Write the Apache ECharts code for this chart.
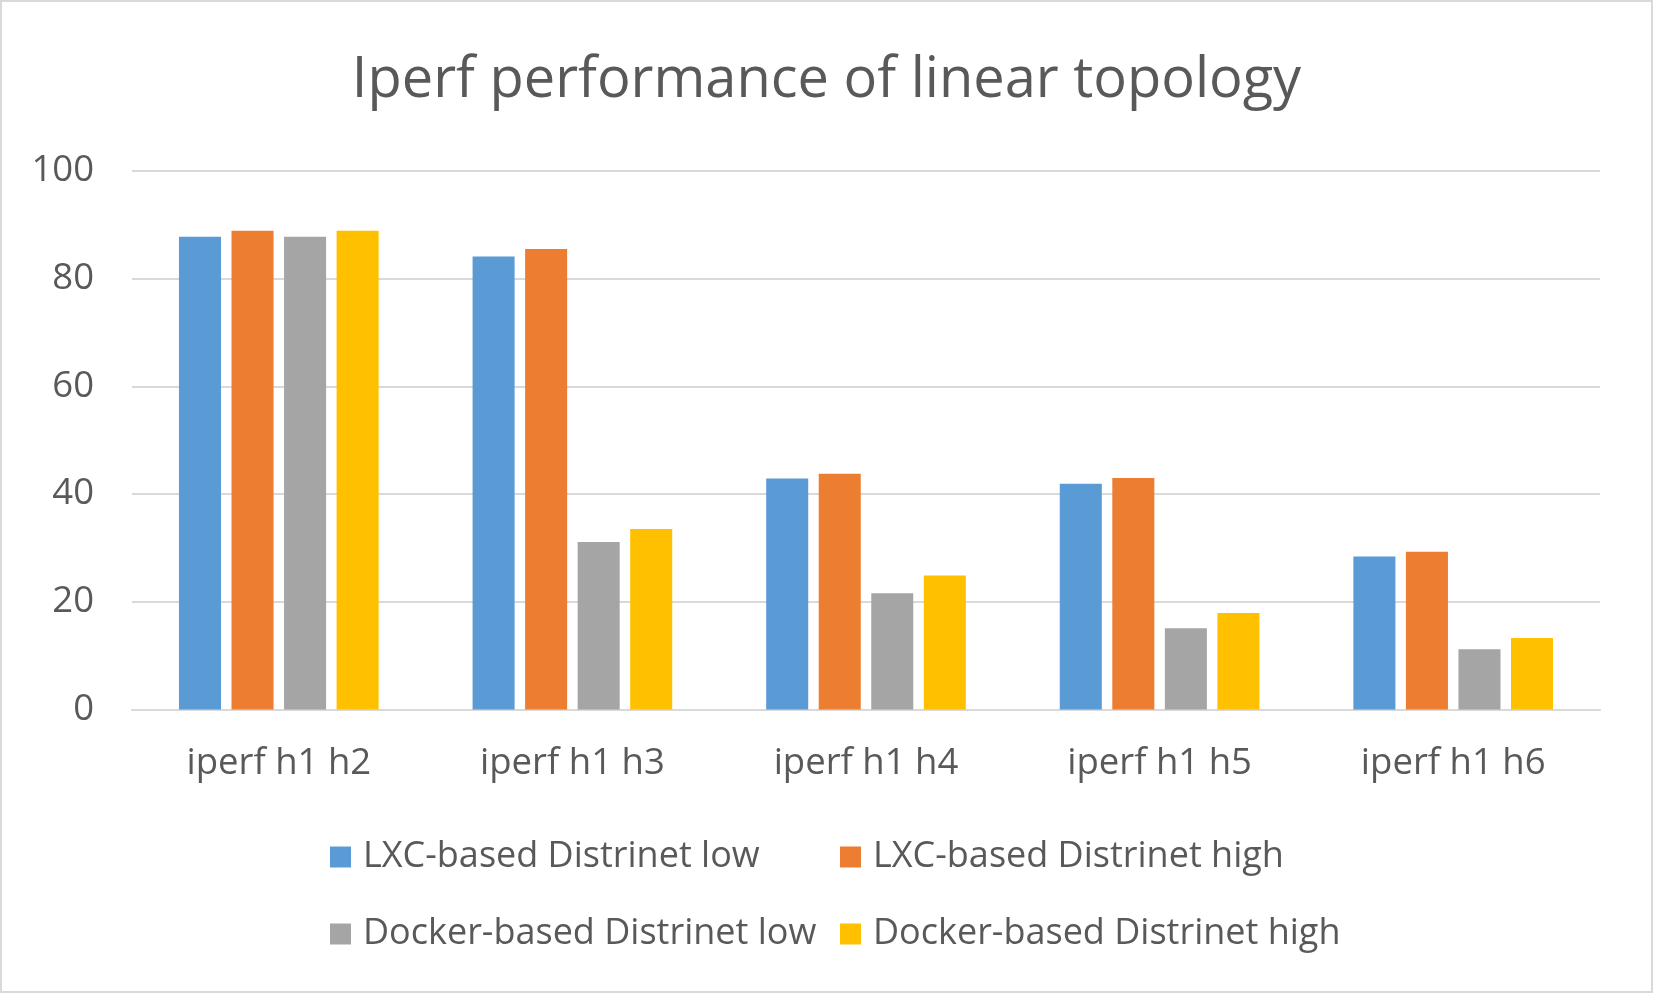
<!DOCTYPE html>
<html>
<head>
<meta charset="utf-8">
<script src="https://cdn.jsdelivr.net/npm/echarts@6/dist/echarts.min.js"></script>
<style>
html,body{margin:0;padding:0;background:#fff;}
#chart{width:1653px;height:993px;}
</style>
</head>
<body>
<div id="chart"></div>
<script>
const categories = ['iperf h1 h2', 'iperf h1 h3', 'iperf h1 h4', 'iperf h1 h5', 'iperf h1 h6'];
const seriesNames = ['LXC-based Distrinet low', 'LXC-based Distrinet high', 'Docker-based Distrinet low', 'Docker-based Distrinet high'];
const lxcLow = [87.8, 84.1, 42.9, 41.9, 28.4];
const lxcHigh = [88.9, 85.5, 43.8, 43.0, 29.3];
const dockerLow = [87.8, 31.1, 21.6, 15.1, 11.2];
const dockerHigh = [88.9, 33.5, 24.9, 17.9, 13.3];
const yTicks = {min: 0, max: 100, interval: 20};
const colors = ['#5B9BD5', '#ED7D31', '#A5A5A5', '#FFC000'];

const FONT = '"Open Sans", sans-serif';
const TXT = '#595959';
const chart = echarts.init(document.getElementById('chart'), null, {renderer: 'canvas'});
const values = [lxcLow, lxcHigh, dockerLow, dockerHigh];

const legendText = {color: TXT, fontFamily: FONT, fontSize: 36, lineHeight: 36, padding: [0, 0, 0, 7]};
chart.setOption({
  animation: false,
  backgroundColor: '#ffffff',
  textStyle: {fontFamily: FONT},
  title: {
    text: 'Iperf performance of linear topology',
    left: 'center',
    top: 48,
    textStyle: {color: TXT, fontFamily: FONT, fontSize: 56, fontWeight: 'normal'}
  },
  graphic: [{
    type: 'rect', silent: true,
    shape: {x: 1, y: 1, width: 1651, height: 991},
    style: {fill: 'none', stroke: '#d9d9d9', lineWidth: 2}
  }],
  legend: [
    {
      data: [seriesNames[0], seriesNames[2]],
      orient: 'vertical', left: 330, top: 839, itemGap: 41, padding: 0,
      itemWidth: 21, itemHeight: 21, icon: 'rect',
      textStyle: legendText, selectedMode: false
    },
    {
      data: [seriesNames[1], seriesNames[3]],
      orient: 'vertical', left: 840, top: 839, itemGap: 41, padding: 0,
      itemWidth: 21, itemHeight: 21, icon: 'rect',
      textStyle: legendText, selectedMode: false
    }
  ],
  grid: {left: 132, right: 53, top: 171, bottom: 283.5, containLabel: false},
  xAxis: {
    type: 'category',
    data: categories,
    axisLine: {show: true, lineStyle: {color: '#d9d9d9', width: 2}},
    axisTick: {show: false},
    axisLabel: {color: TXT, fontFamily: FONT, fontSize: 36.5, margin: 36}
  },
  yAxis: {
    type: 'value',
    min: yTicks.min, max: yTicks.max, interval: yTicks.interval,
    axisLine: {show: false},
    axisTick: {show: false},
    splitLine: {lineStyle: {color: '#d9d9d9', width: 2}},
    axisLabel: {color: TXT, fontFamily: FONT, fontSize: 36.5, margin: 38}
  },
  series: seriesNames.map((n, i) => ({
    name: n,
    type: 'bar',
    data: values[i],
    itemStyle: {color: colors[i]},
    barGap: '25%',
    barCategoryGap: '32%'
  }))
});
</script>
</body>
</html>
